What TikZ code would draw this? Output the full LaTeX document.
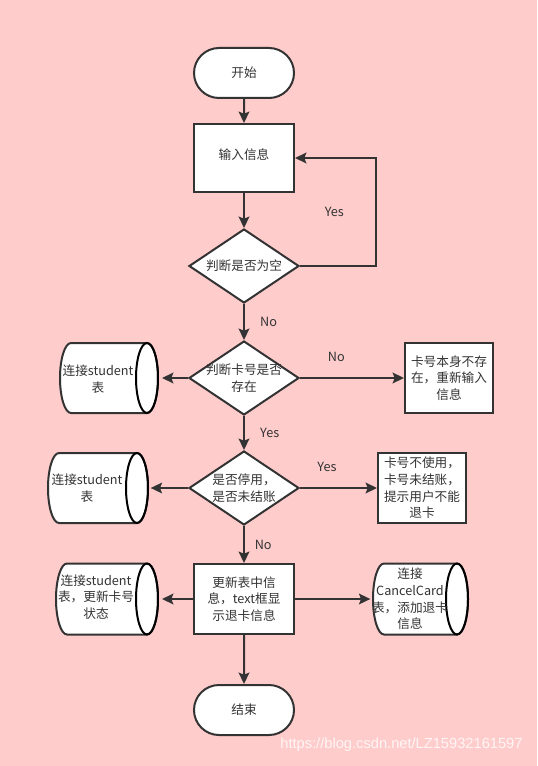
\documentclass[tikz,border=0pt]{standalone}
\usepackage{fontspec}
\setmainfont{Noto Sans CJK SC}
\newfontfamily\urlfont{Liberation Sans}
\usetikzlibrary{shapes.geometric,shapes.misc,arrows.meta}

\definecolor{pinkbg}{RGB}{255,204,204}
\definecolor{inkgray}{RGB}{51,51,51}

\tikzset{every picture/.style={line width=1.5pt}}
\tikzset{
	flowarrow/.style={draw=inkgray, -{Stealth[length=8.5pt,width=8pt,inset=1.5pt]}},
	termbox/.style={rounded rectangle, draw=inkgray, fill=white, minimum width=75pt, minimum height=37.5pt, inner sep=0pt},
	procbox/.style={rectangle, draw=inkgray, fill=white, minimum width=75pt, minimum height=51pt, inner sep=0pt, align=center},
	msgbox/.style={rectangle, draw=inkgray, fill=white, minimum width=66pt, minimum height=53pt, inner sep=0pt, align=center},
	decision/.style={diamond, draw=inkgray, fill=white, minimum width=82.5pt, minimum height=55.5pt, inner sep=0pt},
	tablecyl/.style={draw=inkgray, fill=white},
	tabletext/.style={align=center, inner sep=0pt},
	lbl/.style={align=center, text=inkgray, font=\fontsize{9.5pt}{12.5pt}\selectfont},
	every node/.style={text=inkgray, font=\fontsize{9.5pt}{12.5pt}\selectfont},
}

\begin{document}
\begin{tikzpicture}[x=0.75pt,y=0.75pt,yscale=-1,xscale=1]
	\fill[pinkbg] (0,0) rectangle (537,766);

	% student / CancelCard tables
	\draw[tablecyl] (147,343) -- (71,343) arc[start angle=270, end angle=90, x radius=11, y radius=35] -- (147,413) arc[start angle=90, end angle=-90, x radius=11, y radius=35] -- cycle;
	\draw (147,378) ellipse [x radius=11, y radius=35];
	\draw[tablecyl] (137,453) -- (59,453) arc[start angle=270, end angle=90, x radius=11, y radius=35] -- (137,523) arc[start angle=90, end angle=-90, x radius=11, y radius=35] -- cycle;
	\draw (137,488) ellipse [x radius=11, y radius=35];
	\draw[tablecyl] (147,563.5) -- (67,563.5) arc[start angle=270, end angle=90, x radius=11, y radius=35.5] -- (147,634.5) arc[start angle=90, end angle=-90, x radius=11, y radius=35.5] -- cycle;
	\draw (147,599) ellipse [x radius=11, y radius=35.5];
	\draw[tablecyl] (457,563.5) -- (384,563.5) arc[start angle=270, end angle=90, x radius=11, y radius=35.5] -- (457,634.5) arc[start angle=90, end angle=-90, x radius=11, y radius=35.5] -- cycle;
	\draw (457,599) ellipse [x radius=11, y radius=35.5];

	\node[tabletext] (conn1) at (98,379) {连接student\\表};
	\node[tabletext] (conn2) at (87,488) {连接student\\表};
	\node[tabletext] (conn3) at (96,597) {连接student\\表，更新卡号\\状态};
	\node[tabletext] (cancel) at (410,599) {连接\\CancelCard\\表，添加退卡\\信息};
	\coordinate (conn1e) at (158,378);
	\coordinate (conn2e) at (148,488);
	\coordinate (conn3e) at (158,599);
	\coordinate (cancelw) at (373,599);

	\node[termbox] (start) at (244,73) {开始};
	\node[procbox] (input) at (244,158) {\raisebox{6pt}{输入信息}};
	\node[decision, label={[lbl]center:判断是否为空}] (chk1) at (244,266) {};
	\node[decision, label={[lbl]center:判断卡号是否\\存在}] (chk2) at (244,378) {};
	\node[msgbox] (nocard) at (449,378) {卡号本身不存\\在，重新输入\\信息};
	\node[decision, label={[lbl]center:是否停用，\\是否未结账}] (chk3) at (244,488) {};
	\node[msgbox] (refuse) at (422,488) {卡号不使用，\\卡号未结账，\\提示用户不能\\退卡};
	\node[procbox, minimum height=52.5pt] (update) at (244,599) {更新表中信\\息，text框显\\示退卡信息};
	\node[termbox] (finish) at (244,710) {结束};

	\draw[flowarrow] (start) -- (input);
	\draw[flowarrow] (input) -- (chk1);
	\draw[flowarrow] (chk1.east) -- ++(76,0) |- (input.east) node[pos=0.25, left=20pt] {Yes};
	\draw[flowarrow] (chk1) -- (chk2) node[midway, right=8pt] {No};
	\draw[flowarrow, shorten >=3pt] (chk2.west) -- (conn1e);
	\draw[flowarrow] (chk2.east) -- (nocard.west) node[pos=0.35, above=8pt] {No};
	\draw[flowarrow] (chk2) -- (chk3) node[midway, right=8pt] {Yes};
	\draw[flowarrow, shorten >=2pt] (chk3.west) -- (conn2e);
	\draw[flowarrow] (chk3.east) -- (refuse.west) node[pos=0.35, above=8pt] {Yes};
	\draw[flowarrow] (chk3) -- (update) node[midway, right=4pt] {No};
	\draw[flowarrow, shorten >=3pt] (update.west) -- (conn3e);
	\draw[flowarrow, shorten >=2pt] (update.east) -- (cancelw);
	\draw[flowarrow] (update) -- (finish);

	\node[font=\urlfont\fontsize{11pt}{13pt}\selectfont, text=white, opacity=0.8, anchor=south east] (mark) at (528,757) {https://blog.csdn.net/LZ15932161597};
\end{tikzpicture}
\end{document}
